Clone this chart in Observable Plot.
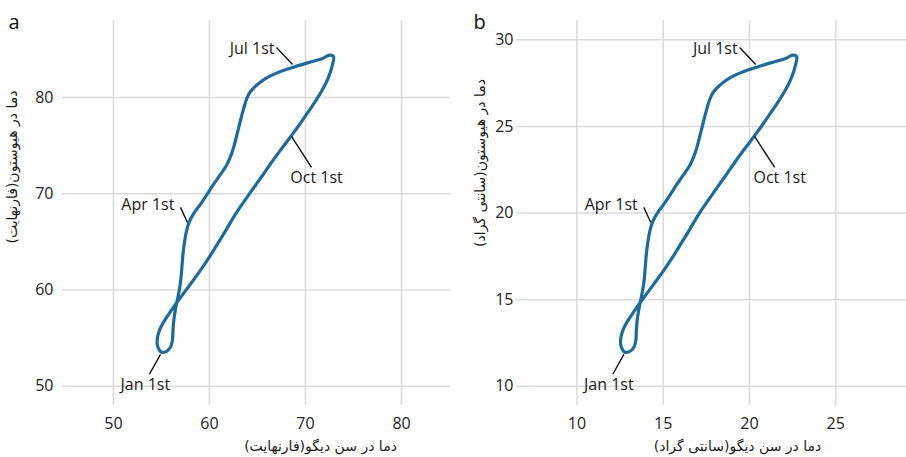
<!DOCTYPE html>
<html>
<head>
<meta charset="utf-8">
<script src="https://cdn.jsdelivr.net/npm/d3@7"></script>
<script src="https://cdn.jsdelivr.net/npm/@observablehq/plot@0.6"></script>
<style>
  html, body { margin: 0; padding: 0; background: #fff; }
  #wrap { position: relative; width: 906px; height: 457px; overflow: hidden; }
  #pa { position: absolute; left: 0; top: 0; }
  #pb { position: absolute; left: 453px; top: 0; }
</style>
</head>
<body>
<div id="wrap"><div id="pa"></div><div id="pb"></div></div>
<script>
// San Diego (x) and Houston (y) normal temperatures, °F, traced through the year starting Jan 1st
const sanDiegoF = [55.00,55.52,55.94,56.15,56.20,56.30,56.46,56.67,56.88,57.03,57.14,57.24,57.40,57.60,57.92,58.44,59.06,59.69,60.42,61.15,61.77,62.24,62.60,62.92,63.23,63.54,63.85,64.27,65.00,66.04,67.40,68.96,70.52,71.77,72.50,72.92,72.76,72.34,71.72,70.94,70.10,69.27,68.39,67.45,66.46,65.52,64.53,63.54,62.60,61.77,60.94,60.10,59.06,57.92,57.08,56.46,55.83,55.21,54.79,54.58,54.58,54.79];
const houstonF  = [53.53,53.63,54.05,54.78,55.81,56.96,57.99,59.03,60.07,61.21,62.46,63.70,64.95,66.09,67.13,68.06,68.89,69.83,70.97,72.01,72.94,73.98,75.12,76.37,77.61,78.76,79.79,80.62,81.35,82.08,82.70,83.22,83.69,84.05,84.41,84.26,83.22,81.97,80.73,79.48,78.24,77.04,75.85,74.60,73.25,71.90,70.50,69.10,67.70,66.30,64.95,63.60,62.04,60.48,59.34,58.51,57.58,56.64,55.81,54.98,54.26,53.74];

// date annotations (°F): label, label position, leader line from label to curve
const annLabels  = ["Jan 1st", "Apr 1st", "Jul 1st", "Oct 1st"];
const annAnchor  = ["middle", "end", "end", "middle"];
const annTextX   = [53.33, 56.35, 66.77, 71.15];
const annTextY   = [50.16, 68.89, 85.09, 71.70];
const annFromX   = [53.75, 56.98, 66.98, 70.63];
const annFromY   = [51.25, 68.58, 85.19, 72.73];
const annToX     = [54.90, 57.71, 68.65, 68.54];
const annToY     = [53.32, 67.02, 83.43, 75.95];

// axes
const ticksXF = [50, 60, 70, 80];
const ticksYF = [50, 60, 70, 80];
const ticksXC = [10, 15, 20, 25];
const ticksYC = [10, 15, 20, 25, 30];

const titleXF = "دما در سن دیگو(فارنهایت)";
const titleYF = "دما در هیوستون(فارنهایت)";
const titleXC = "دما در سن دیگو(سانتی گراد)";
const titleYC = "دما در هیوستون(سانتی گراد)";

const toC = f => (f - 32) * 5 / 9;
const RLM = "\u200F";
const BLUE = "#1d6a9d";
const GRID = "#dadada";

function buildAnn(conv) {
  return annLabels.map((label, i) => ({
    label, anchor: annAnchor[i],
    tx: conv(annTextX[i]), ty: conv(annTextY[i]),
    x1: conv(annFromX[i]), y1: conv(annFromY[i]),
    x2: conv(annToX[i]), y2: conv(annToY[i])
  }));
}

function panel(o) {
  const pts = sanDiegoF.map((x, i) => ({x: o.conv(x), y: o.conv(houstonF[i])}));
  const ann = buildAnn(o.conv);
  const textOpts = {fontSize: 16, fill: "#1a1a1a", fontFamily: "'Open Sans', sans-serif"};
  return Plot.plot({
    width: 453, height: 457,
    marginTop: 20, marginBottom: 52, marginLeft: o.ml, marginRight: o.mr,
    x: {domain: o.xDomain},
    y: {domain: o.yDomain},
    style: {fontFamily: "'Open Sans', 'DejaVu Sans', sans-serif", fontSize: "16px", color: "#222", background: "#fff", overflow: "visible"},
    marks: [
      Plot.gridX(o.xTicks, {stroke: GRID, strokeOpacity: 1, strokeWidth: 1.5}),
      Plot.gridY(o.yTicks, {stroke: GRID, strokeOpacity: 1, strokeWidth: 1.5}),
      Plot.axisX(o.xTicks, {tickSize: 0, tickPadding: 12, label: null, fontSize: 16, fill: "#222"}),
      Plot.axisY(o.yTicks, {tickSize: 0, tickPadding: o.yPad, label: null, fontSize: 16, fill: "#222"}),
      Plot.line(pts, {x: "x", y: "y", curve: "catmull-rom-closed", stroke: BLUE, strokeWidth: 3.2}),
      Plot.link(ann, {x1: "x1", y1: "y1", x2: "x2", y2: "y2", stroke: "#111", strokeWidth: 1.4}),
      Plot.text(ann.filter(d => d.anchor === "end"), {x: "tx", y: "ty", text: "label", textAnchor: "end", lineAnchor: "middle", ...textOpts}),
      Plot.text(ann.filter(d => d.anchor === "middle"), {x: "tx", y: "ty", text: "label", textAnchor: "middle", lineAnchor: "middle", ...textOpts}),
      Plot.text([o.letter], {frameAnchor: "top-left", text: d => d, dx: o.letterDx, dy: 8, lineAnchor: "bottom", textAnchor: "start", fontSize: 20, fill: "#111"}),
      Plot.text([RLM + o.yTitle + RLM], {frameAnchor: "left", text: d => d, rotate: -90, dx: o.yTitleDx, dy: o.yTitleDy, textAnchor: "middle", lineAnchor: "middle", fontSize: 14, fontFamily: "'DejaVu Sans', sans-serif", fill: "#1a1a1a"}),
      Plot.text([RLM + o.xTitle + RLM], {frameAnchor: "bottom", text: d => d, dx: o.xTitleDx, dy: 41, textAnchor: "middle", lineAnchor: "middle", fontSize: 14, fontFamily: "'DejaVu Sans', sans-serif", fill: "#1a1a1a"})
    ]
  });
}

document.getElementById("pa").append(panel({
  conv: v => v, xDomain: [44.7, 85.1], yDomain: [48, 88],
  xTicks: ticksXF, yTicks: ticksYF, ml: 62, mr: 3, yPad: 9,
  letter: "a", letterDx: -54, xTitle: titleXF, yTitle: titleYF,
  yTitleDx: -50, yTitleDy: -46, xTitleDx: 64
}));
document.getElementById("pb").append(panel({
  conv: toC, xDomain: [6.5, 29.1], yDomain: [toC(48), toC(88)],
  xTicks: ticksXC, yTicks: ticksYC, ml: 63, mr: 0, yPad: 3,
  letter: "b", letterDx: -43, xTitle: titleXC, yTitle: titleYC,
  yTitleDx: -36, yTitleDy: -50, xTitleDx: 26
}));
</script>
</body>
</html>
